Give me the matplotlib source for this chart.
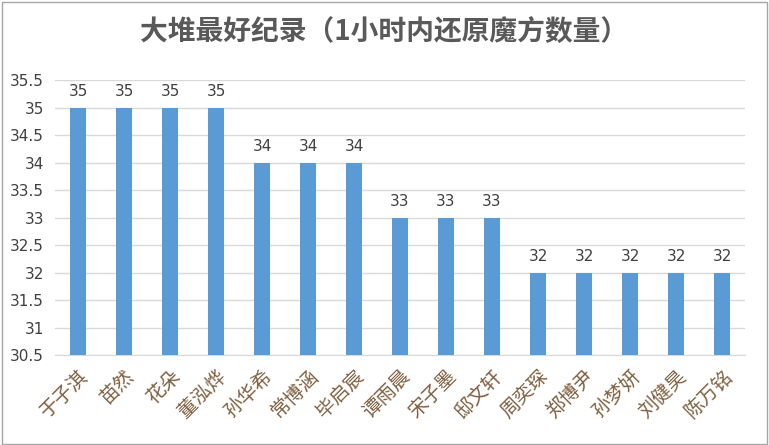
import matplotlib
matplotlib.use("Agg")
import matplotlib.pyplot as plt
from matplotlib.patches import Rectangle

names = ["于子淇","苗然","花朵","董泓烨","孙华希","常博涵","毕启宸","谭雨晨","宋子墨","邸文轩","周奕琛","郑博尹","孙梦妍","刘健昊","陈万铭"]
values = [35,35,35,35,34,34,34,33,33,33,32,32,32,32,32]
yticks = [30.5,31,31.5,32,32.5,33,33.5,34,34.5,35,35.5]
ytick_labels = ["30.5","31","31.5","32","32.5","33","33.5","34","34.5","35","35.5"]

fig = plt.figure(figsize=(7.69,4.45), dpi=100)
ax = fig.add_axes([55/769, 1-355/445, 690/769, 275/445])
x = range(len(names))
ax.bar(x, [v-30.5 for v in values], bottom=30.5, width=0.33, color="#5B9BD5", zorder=3)
for i, v in zip(x, values):
    ax.text(i, v+0.15, str(v), ha="center", va="bottom", fontsize=11, color="#404040")
ax.set_ylim(30.5, 35.5)
ax.set_xlim(-0.5, len(names)-0.5)
ax.set_yticks(yticks)
ax.set_yticklabels(ytick_labels, fontsize=11, color="#404040")
ax.yaxis.grid(True, color="#D9D9D9", linewidth=1, zorder=0)
ax.tick_params(axis="y", length=0, pad=8)
ax.tick_params(axis="x", length=0, pad=8)
ax.set_xticks(list(x))
ax.set_xticklabels(names, rotation=45, ha="right", rotation_mode="anchor",
                   fontsize=14, color="#7F5F3F", family="Noto Sans CJK SC")
for s in ["top","right","left"]:
    ax.spines[s].set_visible(False)
ax.spines["bottom"].set_color("#D9D9D9")
fig.text(0.5, 1-33/445, "大堆最好纪录（1小时内还原魔方数量）", ha="center", va="center",
         fontsize=20, color="#595959", family="Noto Sans CJK SC", fontweight="bold")
fig.patches.append(Rectangle((0.002,0.003),0.995,0.993, transform=fig.transFigure,
                             fill=False, edgecolor="#A6A6A6", linewidth=1))
fig.savefig("out.png", dpi=100)
